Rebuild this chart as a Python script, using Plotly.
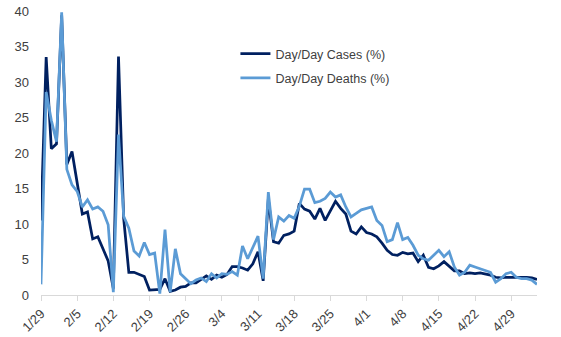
import pandas as pd
import plotly.graph_objects as go

start_date = "2020-01-29"
end_date = "2020-05-04"
tick_dates = ["2020-01-29", "2020-02-05", "2020-02-12", "2020-02-19", "2020-02-26",
              "2020-03-04", "2020-03-11", "2020-03-18", "2020-03-25", "2020-04-01",
              "2020-04-08", "2020-04-15", "2020-04-22", "2020-04-29"]
tick_labels = ["1/29", "2/5", "2/12", "2/19", "2/26", "3/4", "3/11", "3/18",
               "3/25", "4/1", "4/8", "4/15", "4/22", "4/29"]

cases_pct = [
    10.5, 33.5, 20.6, 21.3, 39.4, 18.4, 20.2, 15.7, 11.4, 11.7,
    7.9, 8.2, 6.5, 4.8, 0.9, 33.6, 10.8, 3.2, 3.2, 2.9,
    2.6, 0.7, 0.7, 0.8, 2.3, 0.5, 0.7, 1.1, 1.2, 1.7,
    1.7, 2.2, 2.7, 2.2, 2.8, 2.5, 2.9, 4.0, 4.0, 3.8,
    3.5, 4.4, 6.1, 2.0, 13.5, 7.5, 7.3, 8.4, 8.6, 9.0,
    12.9, 12.1, 11.8, 10.7, 12.2, 10.5, 11.9, 13.2, 12.2, 11.4,
    9.0, 8.6, 9.6, 8.8, 8.6, 8.2, 7.3, 6.3, 5.7, 5.6,
    6.0, 5.8, 5.9, 4.7, 5.6, 3.9, 3.7, 4.1, 4.7, 4.1,
    3.4, 3.4, 3.0, 3.1, 3.0, 3.1, 3.0, 2.8, 2.5, 2.4,
    2.5, 2.5, 2.6, 2.5, 2.5, 2.4, 2.2,
]
deaths_pct = [
    1.5, 28.6, 24.6, 21.6, 39.8, 17.7, 15.5, 14.6, 12.4, 13.4,
    12.1, 12.4, 11.8, 9.9, 0.4, 22.6, 11.1, 9.4, 6.2, 5.5,
    7.4, 5.7, 5.9, 0.2, 9.2, 0.4, 6.5, 3.0, 2.3, 1.6,
    2.1, 2.4, 1.9, 3.0, 2.4, 3.0, 2.9, 3.3, 2.8, 6.9,
    5.1, 6.7, 8.3, 2.3, 14.5, 7.8, 11.0, 10.4, 11.2, 10.8,
    12.5, 14.9, 14.9, 13.0, 13.2, 13.6, 14.5, 13.8, 14.1, 12.4,
    11.0, 11.5, 12.0, 12.2, 12.4, 10.5, 9.8, 7.5, 7.8, 10.2,
    7.8, 8.1, 7.0, 5.6, 5.1, 4.9, 5.6, 6.3, 5.4, 6.1,
    3.95, 2.8, 3.2, 4.2, 3.95, 3.7, 3.5, 3.2, 1.8, 2.3,
    3.0, 3.2, 2.5, 2.3, 2.3, 2.1, 1.5,
]

dates = pd.date_range(start_date, end_date, freq="D")

FONT = "Liberation Sans"
TXT = "#404040"

fig = go.Figure()
fig.add_trace(go.Scatter(
    x=dates, y=cases_pct, mode="lines", name="Day/Day Cases (%)",
    line=dict(color="#002060", width=2.75), legendgroup="a",
))
fig.add_trace(go.Scatter(
    x=dates, y=deaths_pct, mode="lines", name="Day/Day Deaths (%)",
    line=dict(color="#5B9BD5", width=2.75), legendgroup="b",
))

fig.update_layout(
    width=561, height=337,
    margin=dict(l=41, r=24, t=11, b=42, autoexpand=False),
    paper_bgcolor="white", plot_bgcolor="white",
    font=dict(family=FONT, size=12.5, color=TXT),
    showlegend=True,
    legend=dict(x=0.392, y=0.901, xanchor="left", yanchor="top",
                bgcolor="rgba(0,0,0,0)", itemwidth=30,
                traceorder="grouped", tracegroupgap=5,
                font=dict(family=FONT, size=12.5, color=TXT)),
    xaxis=dict(
        range=[start_date, end_date], automargin=False,
        tickvals=tick_dates, ticktext=tick_labels,
        tickangle=-45, showgrid=False, zeroline=False,
        showline=True, linecolor="#d9d9d9", linewidth=1,
        ticks="outside", ticklen=5, tickcolor="#d9d9d9",
        tickfont=dict(family=FONT, size=13, color=TXT),
    ),
    yaxis=dict(
        range=[0, 40], dtick=5, showgrid=False, zeroline=False,
        showline=False, ticks="", automargin=False,
        ticklabelstandoff=11,
        tickfont=dict(family=FONT, size=13, color=TXT),
    ),
)

fig.write_html(
    "out.html",
    config={"displayModeBar": False},
    post_script="document.body.style.margin='0';document.body.style.padding='0';",
)
